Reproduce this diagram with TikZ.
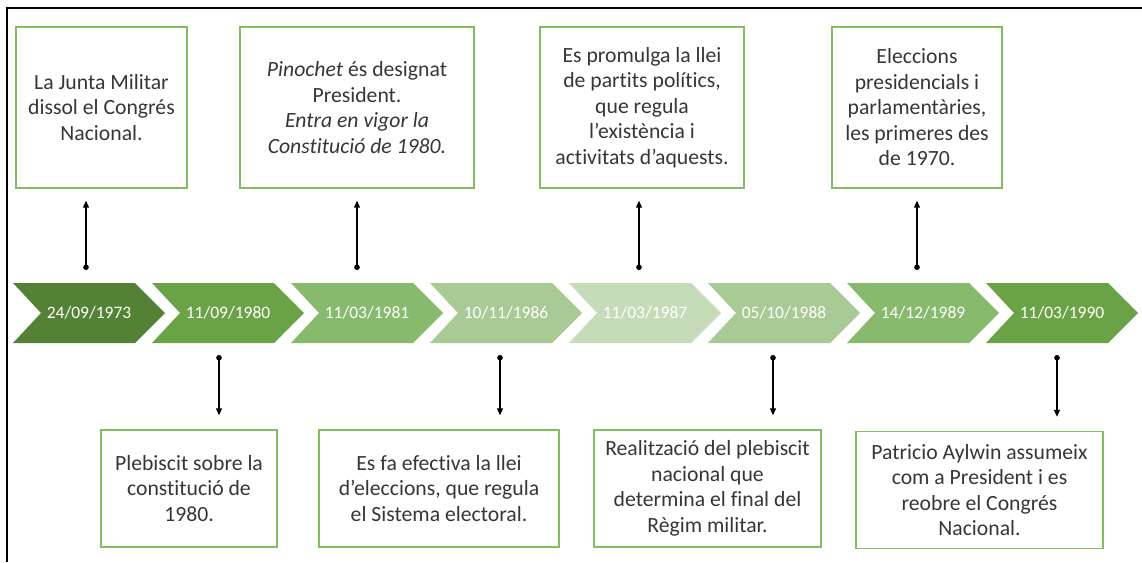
\documentclass[tikz,border=0pt]{standalone}
\usepackage{xcolor}
\usepackage{fontspec}
\setmainfont{Carlito}[Ligatures=NoCommon]
\usepackage{tikz}
\usetikzlibrary{calc,arrows.meta}
\usetikzlibrary{positioning}

\definecolor{grA}{HTML}{548235}
\definecolor{grB}{HTML}{6AA346}
\definecolor{grC}{HTML}{88BA6D}
\definecolor{grD}{HTML}{A8CA95}
\definecolor{grE}{HTML}{C6DCB9}
\definecolor{boxgreen}{HTML}{80BF5C}
\definecolor{boxtext}{HTML}{363636}

\begin{document}
\begin{tikzpicture}[x=1pt,y=-1pt,
    event/.style={draw=boxgreen, line width=1.4pt, text=boxtext, align=center, inner sep=0pt,
        font=\fontsize{21.7}{25.5}\selectfont},
    tall/.style={minimum height=161},
    short/.style={minimum height=117},
    date/.style={text=white, font=\fontsize{17.5}{20}\selectfont},
    link/.style={line width=1.2pt, {Circle[length=5.5pt]}-{Triangle[length=7pt,width=6pt]}}]
            \useasboundingbox (0,0) rectangle (1142,562);
            \draw[line width=2pt] (7,562) -- (7,8) -- (1142,8);
            \foreach \i/\col/\dt in {0/grA/{24/09/1973}, 1/grB/{11/09/1980}, 2/grC/{11/03/1981}, 3/grD/{10/11/1986},
                                     4/grE/{11/03/1987}, 5/grD/{05/10/1988}, 6/grC/{14/12/1989}, 7/grB/{11/03/1990}} {
                \fill[\col] (13+139*\i,283) -- ++(122,0) -- ++(30,30) -- ++(-30,30) -- ++(-122,0) -- ++(28,-30) -- cycle;
                \node[date] (d\i) at (89+139*\i,313) {\dt};
            }
            \node[event, tall, minimum width=171] at (101.5,107.5) (e1) {La Junta Militar\\dissol el Congrés\\Nacional.};
            \node[event, tall, minimum width=234] at (357,107.5) (e2) {\textit{Pinochet} és designat\\President.\\\textit{Entra en vigor la}\\\textit{Constitució de 1980.}};
            \node[event, tall, minimum width=204] at (642,107.5) (e3) {Es promulga la llei\\de partits polítics,\\que regula\\l’existència i\\activitats d’aquests.};
            \node[event, tall, minimum width=170] at (917,107.5) (e4) {Eleccions\\presidencials i\\parlamentàries,\\les primeres des\\de 1970.};
            \node[event, short, minimum width=176] at (189,488.5) (e5) {Plebiscit sobre la\\constitució de\\1980.};
            \node[event, short, minimum width=240] at (439,488.5) (e6) {Es fa efectiva la llei\\d’eleccions, que regula\\el Sistema electoral.};
            \node[event, short, minimum width=227] at (707.5,488.5) (e7) {Realització del plebiscit\\nacional que\\determina el final del\\Règim militar.};
            \node[event, short, minimum width=247] at (979.5,490) (e8) {Patricio Aylwin assumeix\\com a President i es\\reobre el Congrés\\Nacional.};
            \foreach \x/\ev in {86/e1, 357/e2, 639/e3, 917/e4} {
                \coordinate (up\ev) at (\x,270);
                \draw[link, shorten >=12pt] (up\ev) -- (up\ev |- \ev.south);
            }
            \foreach \x/\ev in {219/e5, 500/e6, 773/e7, 1057/e8} {
                \coordinate (dn\ev) at (\x,355);
                \draw[link, shorten >=14pt] (dn\ev) -- (dn\ev |- \ev.north);
            }
        \end{tikzpicture}
\end{document}
